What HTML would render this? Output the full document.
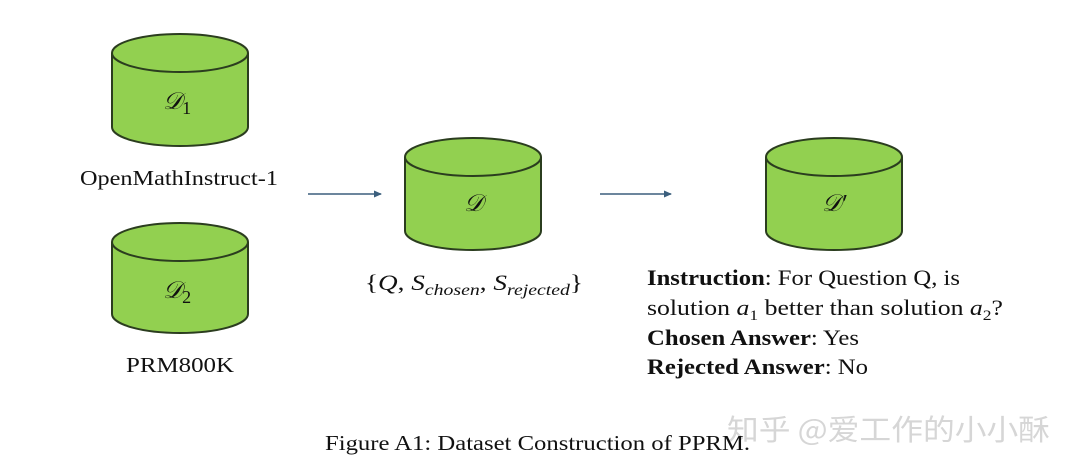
<!DOCTYPE html>
<html><head><meta charset="utf-8"><style>
html,body{margin:0;padding:0;background:#fff;}
svg{display:block;}
text{font-family:"Liberation Serif","Noto Serif CJK SC",serif;fill:#111;}
.m{font-style:italic;}
</style></head><body>
<svg width="1080" height="468" viewBox="0 0 1080 468" xmlns="http://www.w3.org/2000/svg">
<defs>
<marker id="ah" markerWidth="8" markerHeight="8" refX="7" refY="4" orient="auto" markerUnits="userSpaceOnUse">
<path d="M0,0.5 L8,4 L0,7.5 z" fill="#3b5f7d"/>
</marker>
</defs>
<g fill="#92d050" stroke="#2b3d1f" stroke-width="2">
<path d="M112,53 L112,127 A68,19 0 0 0 248,127 L248,53"/>
<ellipse cx="180" cy="53" rx="68" ry="19"/>
<path d="M112,242 L112,314 A68,19 0 0 0 248,314 L248,242"/>
<ellipse cx="180" cy="242" rx="68" ry="19"/>
<path d="M405,157 L405,231 A68,19 0 0 0 541,231 L541,157"/>
<ellipse cx="473" cy="157" rx="68" ry="19"/>
<path d="M766,157 L766,231 A68,19 0 0 0 902,231 L902,157"/>
<ellipse cx="834" cy="157" rx="68" ry="19"/>
</g>
<g font-size="24">
<text x="163" y="109" class="m">𝒟<tspan font-style="normal" font-size="18" dy="5">1</tspan></text>
<text x="163" y="298" class="m">𝒟<tspan font-style="normal" font-size="18" dy="5">2</tspan></text>
<text x="464" y="211" class="m">𝒟</text>
<text x="822" y="211" class="m">𝒟′</text>
</g>
<line x1="308" y1="194" x2="381" y2="194" stroke="#3b5f7d" stroke-width="1.6" marker-end="url(#ah)"/>
<line x1="600" y1="194" x2="671" y2="194" stroke="#3b5f7d" stroke-width="1.6" marker-end="url(#ah)"/>
<text x="80" y="185" font-size="21" textLength="198" lengthAdjust="spacingAndGlyphs">OpenMathInstruct-1</text>
<text x="126" y="372" font-size="21" textLength="108" lengthAdjust="spacingAndGlyphs">PRM800K</text>
<text x="365" y="290" font-size="22" textLength="218" lengthAdjust="spacingAndGlyphs">{<tspan class="m">Q</tspan>, <tspan class="m">S</tspan><tspan class="m" font-size="16" dy="5">chosen</tspan><tspan dy="-5">, </tspan><tspan class="m">S</tspan><tspan class="m" font-size="16" dy="5">rejected</tspan><tspan dy="-5">}</tspan></text>
<g font-size="22">
<text x="647" y="285" textLength="313" lengthAdjust="spacingAndGlyphs"><tspan font-weight="bold">Instruction</tspan>: For Question Q, is</text>
<text x="647" y="315" textLength="356" lengthAdjust="spacingAndGlyphs">solution <tspan class="m">a</tspan><tspan font-size="15" dy="5">1</tspan><tspan dy="-5">  better than solution </tspan><tspan class="m">a</tspan><tspan font-size="15" dy="5">2</tspan><tspan dy="-5">?</tspan></text>
<text x="647" y="345" textLength="212" lengthAdjust="spacingAndGlyphs"><tspan font-weight="bold">Chosen Answer</tspan>: Yes</text>
<text x="647" y="374" textLength="221" lengthAdjust="spacingAndGlyphs"><tspan font-weight="bold">Rejected Answer</tspan>: No</text>
</g>
<text x="727" y="440" font-size="29" style="fill:#d6d6d6;font-family:'Noto Sans CJK SC',sans-serif" textLength="323" lengthAdjust="spacingAndGlyphs">知乎 @爱工作的小小酥</text>
<text x="325" y="450" font-size="21" textLength="425" lengthAdjust="spacingAndGlyphs">Figure A1: Dataset Construction of PPRM.</text>
</svg>
</body></html>
